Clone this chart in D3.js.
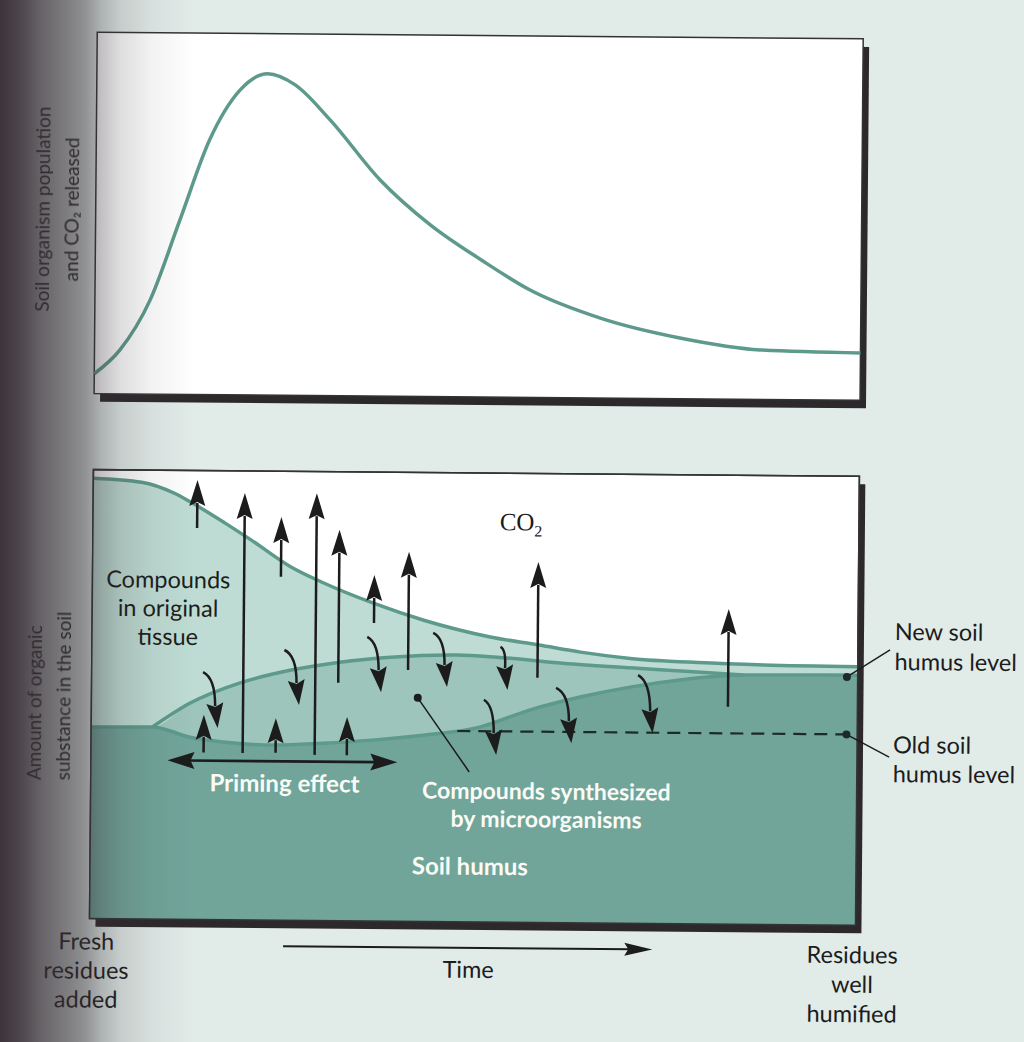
<!DOCTYPE html>
<html>
<head>
<meta charset="utf-8">
<title>Residue decomposition and soil humus</title>
<script src="https://cdn.jsdelivr.net/npm/d3@7"></script>
<style>
body { margin: 0; background: #e1ebe8; }
svg { display: block; }
.lbl { font-family: Lato, "Open Sans", sans-serif; font-size: 23.5px; fill: #1c1c1c; }
.wlbl { font-family: Lato, "Open Sans", sans-serif; font-size: 24px; font-weight: 700; fill: #fbfbf6; }
.axlbl { font-family: Lato, "Open Sans", sans-serif; font-size: 19px; fill: #222; }
.co2 { font-family: "Liberation Serif", "DejaVu Serif", serif; font-size: 25px; fill: #1c1c1c; }
</style>
</head>
<body>
<div id="vis"></div>
<script>

// ---- data (time 0-100, amount 0-100) ----

// top graph: soil organisms and CO2 released
var activityTime  = [0, 3.3, 7.2, 11.0, 14.8, 18.7, 22.3, 25.9, 30.5, 37.1, 43.7, 50.4, 56.8, 66.0, 76.4, 86.9, 100];
var activityLevel = [5.5, 12.1, 26.0, 48.2, 70.5, 84.3, 88.9, 85.9, 76.3, 59.8, 47.5, 37.9, 29.7, 22.1, 16.8, 13.7, 13.1];

// bottom graph: compounds in original tissue (top boundary)
var tissueTime  = [0, 6.3, 10.6, 12.9, 17.2, 20.7, 25.9, 30.2, 36.7, 43.3, 52.0, 58.4, 63.8, 70.3, 79.1, 87.7, 100];
var tissueLevel = [98.1, 97.3, 94.9, 92.8, 88.4, 84.6, 78.7, 75.2, 70.8, 67.1, 63.5, 61.8, 60.3, 59.0, 58.2, 57.8, 57.6];

// compounds synthesized by microorganisms (top boundary)
var synthTime  = [0, 8.0, 12.9, 19.4, 25.9, 32.4, 39.0, 47.7, 52.9, 61.5, 70.3, 79.1, 85.1];
var synthLevel = [42.7, 42.8, 48.2, 52.8, 55.7, 57.6, 58.8, 59.4, 59.0, 57.8, 56.9, 56.1, 55.5];

// soil humus (top boundary)
var humusTime  = [0, 8.0, 12.9, 17.2, 23.7, 30.2, 36.7, 43.3, 50.7, 57.2, 63.8, 70.3, 76.8, 85.1, 100];
var humusLevel = [42.7, 42.8, 40.6, 39.6, 39.0, 39.5, 40.3, 41.5, 43.4, 47.3, 50.3, 52.6, 54.3, 55.5, 55.7];

var oldHumusLevel = 42.5;
var newHumusLevel = 55.3;

// CO2 release arrows: time, from, to
var co2Time = [13.6, 19.8, 24.6, 29.2, 32.2, 36.8, 41.3, 58.2, 83.1];
var co2From = [87.2, 37.2, 76.5, 36.9, 53.0, 66.4, 56.0, 54.5, 48.4];
var co2To   = [97.9, 95.1, 89.8, 95.2, 87.1, 77.1, 82.3, 80.3, 70.2];

// priming effect arrows (humus attacked)
var primeTime = [14.7, 24.1, 33.4];
var primeFrom = [37.2, 37.3, 36.9];
var primeTo   = [45.6, 45.0, 45.4];
var primeSpan = [10.0, 40.0];
var primeLevel = 35.4;

// transfers between pools: start time, start level, end time, end level
var moveT0 = [14.8, 25.4, 36.2, 44.8, 53.6, 51.5, 60.9, 71.6];
var moveV0 = [55.1, 60.2, 63.3, 64.3, 61.3, 49.5, 52.3, 55.3];
var moveT1 = [16.5, 27.1, 37.8, 46.4, 54.3, 52.9, 62.7, 73.3];
var moveV1 = [42.7, 48.0, 51.0, 52.3, 51.7, 37.2, 40.0, 42.4];

var timeSpan = [25.3, 73.5];

var tissueLabel = ["Compounds", "in original", "tissue"];
var synthLabel = ["Compounds synthesized", "by microorganisms"];
var newLabel = ["New soil", "humus level"];
var oldLabel = ["Old soil", "humus level"];
var startLabel = ["Fresh", "residues", "added"];
var endLabel = ["Residues", "well", "humified"];
var topAxisLabel = ["Soil organism population", "and CO\u2082 released"];
var botAxisLabel = ["Amount of organic", "substance in the soil"];

// ---- drawing ----

var width = 1024, height = 1042;
var teal = "#5d9a8c";

var x = d3.scaleLinear().domain([0, 100]).range([93, 859]);
var yTop = d3.scaleLinear().domain([0, 100]).range([397, 35.5]);
var yBot = d3.scaleLinear().domain([0, 100]).range([922, 473]);

function zip(ts, vs) { return ts.map(function(t, i) { return [t, vs[i]]; }); }

var svg = d3.select("#vis").append("svg")
    .attr("width", width)
    .attr("height", height);

var defs = svg.append("defs");

defs.append("filter").attr("id", "soft")
  .append("feGaussianBlur").attr("stdDeviation", 0.7);

// the scan is a little tilted
var page = svg.append("g").attr("transform", "rotate(0.5,480,520)");

function panel(y0, y1) {
  page.append("rect")
    .attr("x", x(0) + 6).attr("y", y0 + 8)
    .attr("width", x(100) - x(0)).attr("height", y1 - y0)
    .attr("fill", "#2c282c");
  page.append("rect")
    .attr("x", x(0)).attr("y", y0)
    .attr("width", x(100) - x(0)).attr("height", y1 - y0)
    .attr("fill", "#fff")
    .attr("stroke", "#333").attr("stroke-width", 1.5);
}

// top panel
panel(yTop(100), yTop(0));

var lineTop = d3.line()
    .x(function(d) { return x(d[0]); })
    .y(function(d) { return yTop(d[1]); })
    .curve(d3.curveMonotoneX);

page.append("path")
    .attr("d", lineTop(zip(activityTime, activityLevel)))
    .attr("fill", "none")
    .attr("stroke", teal)
    .attr("stroke-width", 3.5);

// bottom panel
panel(yBot(100), yBot(0));

defs.append("clipPath").attr("id", "clipBot")
  .append("rect")
    .attr("x", x(0)).attr("y", yBot(100))
    .attr("width", x(100) - x(0)).attr("height", yBot(0) - yBot(100));

var g = page.append("g").attr("clip-path", "url(#clipBot)");

var area = d3.area()
    .x(function(d) { return x(d[0]); })
    .y0(yBot(0))
    .y1(function(d) { return yBot(d[1]); })
    .curve(d3.curveMonotoneX);

var line = d3.line()
    .x(function(d) { return x(d[0]); })
    .y(function(d) { return yBot(d[1]); })
    .curve(d3.curveMonotoneX);

g.append("path").attr("d", area(zip(tissueTime, tissueLevel))).attr("fill", "#bedcd3");
g.append("path").attr("d", area(zip(synthTime, synthLevel))).attr("fill", "#9dc5bb");
g.append("path").attr("d", area(zip(humusTime, humusLevel))).attr("fill", "#71a59a");

[zip(tissueTime, tissueLevel), zip(synthTime, synthLevel).slice(1), zip(humusTime, humusLevel)]
  .forEach(function(pts) {
    g.append("path")
      .attr("d", line(pts))
      .attr("fill", "none")
      .attr("stroke", teal)
      .attr("stroke-width", 3.5);
  });

// re-draw the panel border on top of the fills
page.append("rect")
    .attr("x", x(0)).attr("y", yBot(100))
    .attr("width", x(100) - x(0)).attr("height", yBot(0) - yBot(100))
    .attr("fill", "none")
    .attr("stroke", "#333").attr("stroke-width", 1.5);

var ink = "#1c1c1c";

// old soil humus level
page.append("line")
    .attr("x1", x(47.8)).attr("x2", x(98.6))
    .attr("y1", yBot(oldHumusLevel)).attr("y2", yBot(oldHumusLevel))
    .attr("stroke", "#1d2b28").attr("stroke-width", 2.2)
    .attr("stroke-dasharray", "13,8");

// arrow head: tip point, unit direction, length, half width
function head(tx, ty, dx, dy, L, w) {
  var bx = tx - dx * L, by = ty - dy * L;
  var nx = -dy, ny = dx;
  return "M" + tx + "," + ty +
    "L" + (bx + nx * w) + "," + (by + ny * w) +
    "L" + (bx + dx * 4) + "," + (by + dy * 4) +
    "L" + (bx - nx * w) + "," + (by - ny * w) + "Z";
}

function upArrow(t, v0, v1, L, w) {
  var px = x(t), yb = yBot(v0), yt = yBot(v1);
  page.append("line")
    .attr("x1", px).attr("x2", px)
    .attr("y1", yb).attr("y2", yt + L - 3)
    .attr("stroke", ink).attr("stroke-width", 2.5);
  page.append("path").attr("d", head(px, yt, 0, -1, L, w)).attr("fill", ink);
}

co2Time.forEach(function(t, i) { upArrow(t, co2From[i], co2To[i], 26, 8); });
primeTime.forEach(function(t, i) { upArrow(t, primeFrom[i], primeTo[i], 25, 8); });

// curved transfer arrows
moveT0.forEach(function(t, i) {
  var x0 = x(t), y0 = yBot(moveV0[i]);
  var x1 = x(moveT1[i]), y1 = yBot(moveV1[i]);
  var L = 25, len = Math.sqrt(0.12 * 0.12 + 1);
  var dx = 0.12 / len, dy = 1 / len;
  var hx = x1 - dx * L, hy = y1 - dy * L;
  var k = (hy - y0) * 0.75;
  var cx = hx - dx * k, cy = hy - dy * k;
  page.append("path")
    .attr("d", "M" + (x0 - 2) + "," + y0 + "Q" + (cx + 3) + "," + (cy - 2) + " " + (hx + dx * 3) + "," + (hy + dy * 3))
    .attr("fill", "none").attr("stroke", ink).attr("stroke-width", 2.5);
  page.append("path").attr("d", head(x1, y1, dx, dy, L, 8.5)).attr("fill", ink);
});

// priming effect double arrow
(function() {
  var xa = x(primeSpan[0]), xb = x(primeSpan[1]), py = yBot(primeLevel);
  page.append("line")
    .attr("x1", xa + 20).attr("x2", xb - 20)
    .attr("y1", py).attr("y2", py)
    .attr("stroke", ink).attr("stroke-width", 2.6);
  page.append("path").attr("d", head(xa, py, -1, 0, 27, 8.5)).attr("fill", ink);
  page.append("path").attr("d", head(xb, py, 1, 0, 27, 8.5)).attr("fill", ink);
})();

// leader for synthesized compounds
page.append("line")
    .attr("x1", x(42.6)).attr("y1", yBot(49.8))
    .attr("x2", x(49.4)).attr("y2", yBot(33.4))
    .attr("stroke", ink).attr("stroke-width", 1.5);
page.append("circle").attr("cx", x(42.6)).attr("cy", yBot(49.8)).attr("r", 4).attr("fill", ink);

// level markers on the right
[[newHumusLevel, 61.4], [oldHumusLevel, 37.5]].forEach(function(p) {
  page.append("line")
    .attr("x1", x(98.6)).attr("y1", yBot(p[0]))
    .attr("x2", x(104.2)).attr("y2", yBot(p[1]))
    .attr("stroke", ink).attr("stroke-width", 1.4);
  page.append("circle").attr("cx", x(98.6)).attr("cy", yBot(p[0])).attr("r", 4).attr("fill", "#1d2b28");
});

// texts
function lines(arr, px, py, step, cls, anchor, size) {
  arr.forEach(function(s, i) {
    var t = page.append("text")
      .attr("class", cls)
      .attr("x", px).attr("y", py + i * step)
      .attr("text-anchor", anchor)
      .text(s);
    if (size) t.style("font-size", size + "px");
  });
}

var co2 = page.append("text").attr("class", "co2").attr("x", x(53.1)).attr("y", yBot(87.3));
co2.append("tspan").text("CO");
co2.append("tspan").attr("dy", 6).attr("font-size", 16).text("2");

lines(tissueLabel, x(9.9), yBot(73.8), 28.5, "lbl", "middle");
lines(["Priming effect"], x(25.3), yBot(28.6), 0, "wlbl", "middle");
lines(synthLabel, x(59.5), yBot(27.4), 28, "wlbl", "middle", 23);
lines(["Soil humus"], x(49.6), yBot(10.5), 0, "wlbl", "middle");
lines(newLabel, x(104.8), yBot(63.6), 30, "lbl", "start");
lines(oldLabel, x(104.7), yBot(38.4), 29, "lbl", "start");
lines(endLabel, x(99.6), yBot(0) + 38, 29.5, "lbl", "middle");
lines(startLabel, x(-0.4), yBot(0) + 31, 29, "lbl", "middle");
lines(["Time"], x(49.5), yBot(0) + 56, 0, "lbl", "middle");

// time arrow
(function() {
  var xa = x(timeSpan[0]), xb = x(timeSpan[1]), py = yBot(0) + 26;
  page.append("line")
    .attr("x1", xa).attr("x2", xb - 20)
    .attr("y1", py).attr("y2", py)
    .attr("stroke", ink).attr("stroke-width", 2);
  page.append("path").attr("d", head(xb, py, 1, 0, 28, 6.5)).attr("fill", ink);
})();

// rotated axis titles
topAxisLabel.forEach(function(s, i) {
  page.append("text")
    .attr("class", "axlbl")
    .attr("filter", "url(#soft)")
    .attr("transform", "translate(" + (47 + i * 29) + "," + 213 + ") rotate(-90)")
    .attr("text-anchor", "middle")
    .text(s);
});
botAxisLabel.forEach(function(s, i) {
  page.append("text")
    .attr("class", "axlbl")
    .attr("filter", "url(#soft)")
    .attr("transform", "translate(" + (43 + i * 29) + "," + 784 + ") rotate(-90)")
    .attr("text-anchor", "start")
    .text(s);
});

// book gutter shadow
var grad = defs.append("linearGradient").attr("id", "gutter")
    .attr("x1", 0).attr("x2", 1).attr("y1", 0).attr("y2", 0);
[[0, 0.97], [0.1, 0.88], [0.23, 0.7], [0.36, 0.57], [0.44, 0.47], [0.52, 0.3], [0.62, 0.16], [0.78, 0.06], [1, 0]]
  .forEach(function(s) {
    grad.append("stop").attr("offset", s[0])
      .attr("stop-color", "#382f36").attr("stop-opacity", s[1]);
  });
svg.append("rect")
    .attr("x", 0).attr("y", 0)
    .attr("width", 195).attr("height", height)
    .attr("fill", "url(#gutter)");

</script>
</body>
</html>
